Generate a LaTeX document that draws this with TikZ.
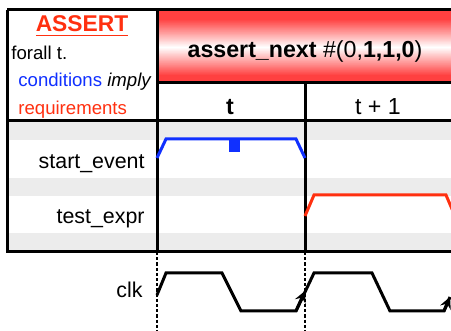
\documentclass[tikz,border=0pt]{standalone}
\usepackage{fontspec}
\setmainfont{Liberation Sans}
\usetikzlibrary{arrows}
\usetikzlibrary{positioning}

\definecolor{condBlue}{RGB}{16,48,255}
\definecolor{reqRed}{RGB}{255,48,16}
\definecolor{headRed}{RGB}{255,64,64}
\definecolor{bandGrey}{RGB}{236,236,236}

\begin{document}
\begin{tikzpicture}
      [x=0.5pt,y=-0.5pt,
       gridLine/.style={draw=black,line width=1.5pt},
       tickLine/.style={draw=black,line width=0.8pt,dash pattern=on 1.6pt off 1pt},
       waveLine/.style={line width=1.5pt,line join=miter},
       sigLabel/.style={anchor=base east,inner sep=0pt,font=\fontsize{10.7}{12}\selectfont},
       sideText/.style={anchor=base west,inner sep=0pt,font=\fontsize{9.3}{11}\selectfont},
       headText/.style={anchor=base,inner sep=0pt,font=\fontsize{11.6}{13}\selectfont}]
      \useasboundingbox (0,0) rectangle (451,331);
      \clip (0,0) rectangle (451,331);
      % row bands and header
      \fill[white] (0,0) rectangle (451,331);
      \fill[bandGrey] (7,121) rectangle (460,140);
      \fill[bandGrey] (7,178) rectangle (460,196);
      \fill[bandGrey] (7,233) rectangle (460,252);
      \foreach \k in {0,...,72} {
        \pgfmathtruncatemacro{\pct}{min(100,abs(\k-37)*100/28)}
        \fill[headRed!\pct!white] (157,10+\k) rectangle (460,11.5+\k);
      }
      % grid
      \draw[gridLine] (7,10) -- (460,10);
      \draw[gridLine] (7,10) -- (7,252) -- (460,252);
      \draw[gridLine] (7,121) -- (460,121);
      \draw[gridLine] (157,83) -- (460,83);
      \draw[gridLine] (157,10) -- (157,252);
      \draw[gridLine] (305,83) -- (305,252);
      \draw[tickLine] (157,252) -- (157,335);
      \draw[tickLine] (305,252) -- (305,335);
      % texts
      \node[headText,font=\fontsize{11.4}{13}\selectfont\bfseries,text=reqRed] (assertTitle) at (82,32) {\underline{ASSERT}};
      \node[sideText] (forallLine) at (11,60) {forall t.};
      \node[sideText] (condLine) at (18,87) {\textcolor{condBlue}{conditions} \textit{imply}};
      \node[sideText,text=reqRed] (reqLine) at (18,115) {requirements};
      \node[headText] (nextTitle) at (305,58) {\textbf{assert\_next} \#(0,\textbf{1,1,0})};
      \node[headText] (cycleT) at (230,115) {\textbf{t}};
      \node[headText] (cycleNext) at (378,115) {t + 1};
      \node[sigLabel] (startLabel) at (145,169) {start\_event};
      \node[sigLabel] (testLabel) at (145,224) {test\_expr};
      \node[sigLabel] (clkLabel) at (143,298) {clk};
      % waveforms
      \draw[waveLine,condBlue] (157,158) -- (166,139) -- (296,139) -- (305,158);
      \fill[condBlue] (229,139) rectangle (240,152);
      \draw[waveLine,reqRed] (305,216) -- (314,195) -- (446,195) -- (455,216);
      \draw[waveLine] (157,295) -- (166,273) -- (222,273) -- (241,311) -- (296,311) -- (305,292) -- (314,273) -- (372,273) -- (390,311) -- (444,311) -- (450,297);
      \draw[waveLine,-stealth] (296,311) -- (305,291);
      \draw[waveLine,-stealth] (444,311) -- (450,297);
    \end{tikzpicture}
\end{document}
